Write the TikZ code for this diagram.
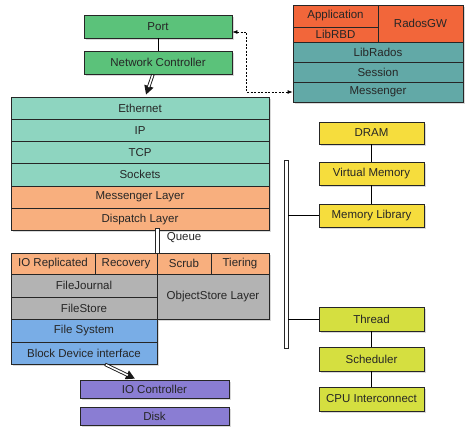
\documentclass[tikz,border=0pt]{standalone}
\usepackage{fontspec}
\setmainfont{Liberation Sans}
\usetikzlibrary{arrows.meta, calc, positioning, shadows}
\definecolor{portgreen}{HTML}{5BC27A}
\definecolor{stackteal}{HTML}{8ED5C0}
\definecolor{layerorange}{HTML}{F8AF7E}
\definecolor{clientred}{HTML}{F2663A}
\definecolor{radosteal}{HTML}{62A9A7}
\definecolor{memyellow}{HTML}{F6DD3D}
\definecolor{cpulime}{HTML}{D5DF40}
\definecolor{storegray}{HTML}{B3B3B3}
\definecolor{fsblue}{HTML}{79ADE6}
\definecolor{diskpurple}{HTML}{8A7DD3}
\tikzset{
	box/.style = {rectangle, draw=black!85, line width=0.6pt, inner sep=0pt, text=black!85,
		font=\fontsize{11.5}{13}\selectfont,
		drop shadow={opacity=0.3, shadow xshift=1.5pt, shadow yshift=-2pt}},
	wh/.style 2 args = {minimum width=#1pt, minimum height=#2pt},
	rail/.style = {rectangle, draw=black!85, line width=0.6pt, fill=white, inner sep=0pt, minimum width=4pt},
	fatout/.style = {draw=black!90, line width=3.4pt, -{Triangle[length=9pt, width=9pt]}},
	fatin/.style = {draw=white, line width=1.6pt, shorten >=8pt, shorten <=0.9pt},
	dotlink/.style = {{Latex[length=5pt]}-{Latex[length=5pt]}, dash pattern=on 2pt off 1.5pt, line width=0.6pt}
}
\begin{document}
\begin{tikzpicture}[x=1pt, y=-1pt]
	\useasboundingbox (0,0) rectangle (470,434);
	
	% network side
	\node[box, fill=portgreen, wh={148}{23}] (port) at (158,26.5) {Port};
	\node[box, fill=portgreen, wh={148}{23}] (netctl) at (158,62.5) {Network Controller};
	
	% protocol stack
	\node[box, fill=stackteal, wh={258}{22.2}] (eth) at (140,108.1) {Ethernet};
	\node[box, fill=stackteal, wh={258}{22.2}] (ip) at (140,130.3) {IP};
	\node[box, fill=stackteal, wh={258}{22.2}] (tcp) at (140,152.5) {TCP};
	\node[box, fill=stackteal, wh={258}{22.2}] (sock) at (140,174.7) {Sockets};
	\node[box, fill=layerorange, wh={258}{22.2}] (msgl) at (140,196.9) {Messenger Layer};
	\node[box, fill=layerorange, wh={258}{22.2}] (disp) at (140,219.1) {Dispatch Layer};
	
	% client side
	\node[box, fill=clientred, wh={85}{22}] (app) at (335.5,16) {Application};
	\node[box, fill=clientred, wh={85}{15}] (rbd) at (335.5,34.5) {LibRBD};
	\node[box, fill=clientred, wh={85}{37}] (rgw) at (420.5,23.5) {RadosGW};
	\node[box, fill=radosteal, wh={170}{20}] (lrados) at (378,52) {LibRados};
	\node[box, fill=radosteal, wh={170}{20}] (sess) at (378,72) {Session};
	\node[box, fill=radosteal, wh={170}{20}] (msgr) at (378,92) {Messenger};
	
	% memory
	\node[box, fill=memyellow, wh={105}{22}] (dram) at (371.5,133) {DRAM};
	\node[box, fill=memyellow, wh={105}{23}] (vmem) at (371.5,173.5) {Virtual Memory};
	\node[box, fill=memyellow, wh={105}{23}] (mlib) at (371.5,215.5) {Memory Library};
	
	% cpu
	\node[box, fill=cpulime, wh={105}{24}] (thread) at (371.5,319) {Thread};
	\node[box, fill=cpulime, wh={105}{24}] (sched) at (371.5,359) {Scheduler};
	\node[box, fill=cpulime, wh={105}{24}] (cpu) at (371.5,399) {CPU Interconnect};
	
	% osd side
	\node[box, fill=layerorange, wh={84}{21}] (iorep) at (53,263.5) {IO Replicated};
	\node[box, fill=layerorange, wh={62}{21}] (recov) at (126,263.5) {Recovery};
	\node[box, fill=layerorange, wh={54}{21}] (scrub) at (184,263.5) {Scrub};
	\node[box, fill=layerorange, wh={58}{21}] (tier) at (240,263.5) {Tiering};
	\node[box, fill=storegray, wh={146}{23}] (fj) at (84,285.5) {FileJournal};
	\node[box, fill=storegray, wh={146}{22}] (fs) at (84,308) {FileStore};
	\node[box, fill=storegray, wh={112}{45}] (osl) at (213,296.5) {ObjectStore Layer};
	\node[box, fill=fsblue, wh={146}{23}] (fsys) at (84,330.5) {File System};
	\node[box, fill=fsblue, wh={146}{22}] (bdi) at (84,353) {Block Device interface};
	\node[box, fill=diskpurple, wh={149}{18}] (ioc) at (154.5,389) {IO Controller};
	\node[box, fill=diskpurple, wh={149}{18}] (disk) at (154.5,416) {Disk};
	
	% rails
	\node[rail, minimum height=25pt] (qbar) at (157,240.5) {};
	\node[right=4pt of qbar, yshift=2.5pt, text=black!85, font=\fontsize{11.5}{13}\selectfont] (queue) {Queue};
	\node[rail, minimum height=188pt] (bar) at (286,254) {};
	
	% plain links
	\draw[line width=0.6pt] (port) -- (netctl);
	\draw[line width=0.6pt] (dram) -- (vmem);
	\draw[line width=0.6pt] (vmem) -- (mlib);
	\draw[line width=0.6pt] (thread) -- (sched);
	\draw[line width=0.6pt] (sched) -- (cpu);
	\draw[line width=0.6pt] (mlib.west) -- (mlib.west -| bar.east);
	\draw[line width=0.6pt] (thread.west) -- (thread.west -| bar.east);
	
	% data flow
	\coordinate (ethin) at ([xshift=6pt, yshift=2pt]eth.north);
	\coordinate (iocin) at ([xshift=-19.5pt, yshift=1pt]ioc.north);
	\draw[fatout] ([xshift=-5pt]netctl.south) -- (ethin);
	\draw[fatin] ([xshift=-5pt]netctl.south) -- (ethin);
	\draw[fatout] ([xshift=21pt]bdi.south) -- (iocin);
	\draw[fatin] ([xshift=21pt]bdi.south) -- (iocin);
	\draw[dotlink] ([yshift=-5.5pt]port.east) -- ++(14,0) |- (msgr.west);
\end{tikzpicture}
\end{document}
